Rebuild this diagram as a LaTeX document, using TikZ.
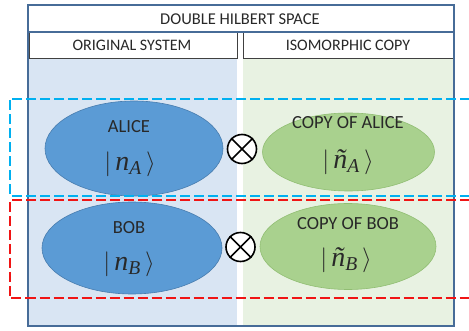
\documentclass[tikz,border=0pt]{standalone}
\usepackage{amsmath}
\usepackage{fontspec}
\setmainfont{Carlito}
\newfontfamily\ketfont{Liberation Serif}
\newcommand{\ketvar}[1]{\text{\ketfont\itshape #1}}
\usetikzlibrary{shapes.geometric}
\definecolor{frameblue}{RGB}{71,108,152}
\definecolor{panelblue}{RGB}{217,229,243}
\definecolor{panelgreen}{RGB}{232,242,226}
\definecolor{aliceblue}{RGB}{91,155,213}
\definecolor{aliceedge}{RGB}{72,125,175}
\definecolor{copygreen}{RGB}{169,209,142}
\definecolor{copyedge}{RGB}{145,190,115}
\definecolor{inktext}{RGB}{40,40,40}
\definecolor{dashcyan}{RGB}{0,176,240}
\definecolor{dashred}{RGB}{240,20,20}

\begin{document}
\begin{tikzpicture}[
    x=1pt, y=-1pt,
    every node/.style={font=\fontsize{16}{18}\selectfont, text=inktext, inner sep=0pt},
    headbox/.style={draw=black!75, fill=white, line width=0.8pt},
    origstate/.style={ellipse, fill=aliceblue, draw=aliceedge, line width=0.6pt},
    copystate/.style={ellipse, fill=copygreen, draw=copyedge, line width=0.6pt},
    statename/.style={font=\fontsize{18.5}{21}\selectfont},
    ketlabel/.style={font=\fontsize{28}{30}\selectfont},
    tensor/.style={circle, draw=black, fill=white, line width=1.6pt, minimum size=29pt},
    pairbox/.style={line width=2pt, dash pattern=on 10pt off 4pt}
]
\useasboundingbox (0,0) rectangle (469,331);

% panels
\fill[panelblue] (29,58) rectangle (237,326);
\fill[panelgreen] (243,58) rectangle (453,326);

% headers
\draw[headbox] (29,32) rectangle (237,58);
\draw[headbox] (243,32) rectangle (453,58);
\node[font=\fontsize{16.5}{18}\selectfont] (hilbert) at (240,19) {DOUBLE HILBERT SPACE};
\node (original) at (132,45.5) {ORIGINAL SYSTEM};
\node (isocopy) at (348,45.5) {ISOMORPHIC COPY};

% frame
\draw[frameblue, line width=2pt] (28,5) rectangle (454,326);
\draw[frameblue, line width=1.5pt] (28,32) -- (454,32);

% alice row
\node[origstate, minimum width=178pt, minimum height=95pt] (alice) at (134,148.5) {};
\node[statename] (alicename) at (129,127) {ALICE};
\node[ketlabel] (aliceket) at (130,164) {$|\,\ketvar{n}_{\ketvar{A}}\,\rangle$};
\node[copystate, minimum width=172pt, minimum height=78pt] (alicecopy) at (348.5,152) {};
\node[statename] (alicecopyname) at (348,122.5) {COPY OF ALICE};
\node[ketlabel] (alicecopyket) at (348,162) {$|\,\ketvar{ñ}_{\ketvar{A}}\,\rangle$};
\node[tensor] (tensorA) at (242,149) {};
\draw[line width=1.6pt] (tensorA.north west) -- (tensorA.south east)
    (tensorA.north east) -- (tensorA.south west);

% bob row
\node[origstate, minimum width=180pt, minimum height=92pt] (bob) at (132,248) {};
\node[statename] (bobname) at (129,227.5) {BOB};
\node[ketlabel] (bobket) at (129,264) {$|\,\ketvar{n}_{\ketvar{B}}\,\rangle$};
\node[copystate, minimum width=176pt, minimum height=86pt] (bobcopy) at (348,246.5) {};
\node[statename] (bobcopyname) at (348,223.5) {COPY OF BOB};
\node[ketlabel] (bobcopyket) at (346,260) {$|\,\ketvar{ñ}_{\ketvar{B}}\,\rangle$};
\node[tensor] (tensorB) at (240.5,247) {};
\draw[line width=1.6pt] (tensorB.north west) -- (tensorB.south east)
    (tensorB.north east) -- (tensorB.south west);

% subsystems
\draw[pairbox, dashcyan] (470,99) -- (9.5,99) -- (9.5,196) -- (470,196);
\draw[pairbox, dashred] (470,200.5) -- (9.5,200.5) -- (9.5,298) -- (470,298);
\end{tikzpicture}
\end{document}
